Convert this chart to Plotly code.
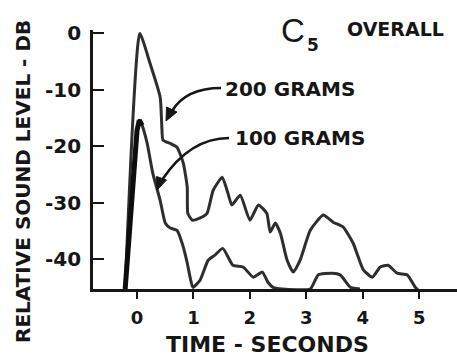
import plotly.graph_objects as go

# 200 grams curve
t200 = [-0.21, 0.05, 0.23, 0.41, 0.44, 0.46, 0.59, 0.71, 0.82, 0.89, 0.90, 0.98, 1.12, 1.24, 1.35, 1.51,
        1.61, 1.68, 1.83, 2.00, 2.15, 2.30, 2.36, 2.45, 2.54, 2.66, 2.77, 2.89, 3.07, 3.30, 3.48, 3.65,
        3.83, 4.01, 4.17, 4.31, 4.45, 4.61, 4.79, 4.93, 4.98]
db200 = [-45.3, 0.0, -5.3, -11.3, -16.6, -18.9, -19.5, -20.2, -23.0, -27.3, -31.9, -33.1, -32.7, -31.9, -27.8, -25.5,
         -28.3, -30.4, -28.7, -33.1, -30.4, -31.9, -35.2, -33.6, -35.4, -40.2, -42.3, -40.2, -34.9, -32.2, -33.5, -34.3,
         -37.2, -41.9, -43.2, -41.4, -41.1, -42.5, -42.8, -45.0, -45.5]

# 100 grams curve
t100 = [-0.21, 0.0, 0.04, 0.09, 0.18, 0.28, 0.41, 0.50, 0.59, 0.71, 0.80, 0.89, 0.94, 0.99, 1.12, 1.26, 1.38,
        1.52, 1.70, 1.88, 2.06, 2.22, 2.32, 2.41, 2.57, 3.07, 3.21, 3.46, 3.60, 3.78, 3.95]
db100 = [-45.3, -17.2, -15.4, -16.3, -19.5, -24.8, -29.6, -33.6, -34.5, -34.9, -37.2, -40.7, -43.2, -45.0, -43.7, -40.2, -39.3,
         -38.1, -41.1, -41.4, -43.2, -42.3, -44.1, -45.0, -45.3, -45.3, -42.8, -42.5, -42.8, -45.0, -45.3]

x_ticks = [0, 1, 2, 3, 4, 5]
x_ticklabels = ["0", "1", "2", "3", "4", "5"]
y_ticks = [0, -10, -20, -30, -40]
y_ticklabels = ["0", "-10", "-20", "-30", "-40"]

INK = "#161616"
LINE = "#2e2e2e"
FONT = "DejaVu Sans"

W, H = 457, 359
ML, MR, MT, MB = 93, 0, 30, 70
XR = [-0.78, 5.67]
YR = [-45.3, 0.6]
PW, PH = W - ML - MR, H - MT - MB


def px2x(px):
    return XR[0] + (px - ML) / PW * (XR[1] - XR[0])


def px2y(py):
    return YR[1] - (py - MT) / PH * (YR[1] - YR[0])


def paper(px, py):
    return dict(xref="paper", yref="paper", x=(px - ML) / PW, y=1 - (py - MT) / PH)


fig = go.Figure()
fig.add_trace(go.Scatter(x=t200, y=db200, mode="lines", line=dict(color=LINE, width=3, shape="spline", smoothing=0.5),
                         showlegend=False, hoverinfo="skip"))
fig.add_trace(go.Scatter(x=t100, y=db100, mode="lines", line=dict(color=LINE, width=3, shape="spline", smoothing=0.5),
                         showlegend=False, hoverinfo="skip"))
# thick dark rising segment of the 100 g curve
fig.add_trace(go.Scatter(x=t100[:4], y=db100[:4], mode="lines", line=dict(color="#0d0d0d", width=5),
                         showlegend=False, hoverinfo="skip"))

fig.update_layout(
    width=W, height=H,
    margin=dict(l=ML, r=MR, t=MT, b=MB),
    paper_bgcolor="white", plot_bgcolor="white",
    font=dict(family=FONT, color=INK, size=18, weight="bold"),
    xaxis=dict(range=XR, tickvals=x_ticks, ticktext=x_ticklabels, showgrid=False, zeroline=False,
               showline=True, linecolor=INK, linewidth=2.8, ticks="outside", ticklen=7, tickwidth=2.2, tickcolor=INK,
               tickfont=dict(size=18, family=FONT, weight="bold", color=INK), ticklabelstandoff=3),
    yaxis=dict(range=YR, tickvals=y_ticks, ticktext=y_ticklabels, showgrid=False, zeroline=False,
               showline=True, linecolor=INK, linewidth=2.8, ticks="inside", ticklen=11, tickwidth=2.2, tickcolor=INK,
               tickfont=dict(size=20, family=FONT, weight="bold", color=INK), ticklabelstandoff=5),
)

ann = []
ann.append(dict(text="RELATIVE SOUND LEVEL - DB", textangle=-90, showarrow=False,
                font=dict(size=20, family=FONT, weight="bold", color=INK),
                xanchor="center", yanchor="middle", **paper(23, 182)))
ann.append(dict(text="TIME - SECONDS", showarrow=False, font=dict(size=22, family=FONT, weight="bold", color=INK),
                xanchor="center", yanchor="middle", **paper(267, 344.5)))
ann.append(dict(text="C", showarrow=False, xanchor="center", yanchor="middle",
                font=dict(size=33, family="Liberation Sans", weight="normal", color=INK), **paper(293, 30)))
ann.append(dict(text="5", showarrow=False, xanchor="center", yanchor="middle",
                font=dict(size=17, family=FONT, weight="bold", color=INK), **paper(313, 45)))
ann.append(dict(text="OVERALL", showarrow=False, xanchor="center", yanchor="middle",
                font=dict(size=19, family=FONT, weight="bold", color=INK), **paper(395, 29)))
ann.append(dict(text="200 GRAMS", showarrow=False, xanchor="center", yanchor="middle",
                font=dict(size=20, family=FONT, weight="bold", color=INK), **paper(290, 89)))
ann.append(dict(text="100 GRAMS", showarrow=False, xanchor="center", yanchor="middle",
                font=dict(size=20, family=FONT, weight="bold", color=INK), **paper(300, 138)))
fig.update_layout(annotations=ann)


def pt(px, py):
    return f"{px2x(px):.4f},{px2y(py):.4f}"


# curved arrow shafts
fig.add_shape(type="path", xref="x", yref="y",
              path=f"M {pt(221, 88)} Q {pt(186, 88)} {pt(172, 111)}",
              line=dict(color=INK, width=2.6))
fig.add_shape(type="path", xref="x", yref="y",
              path=f"M {pt(229, 138)} Q {pt(190, 138)} {pt(162, 180)}",
              line=dict(color=INK, width=2.6))
# arrowheads
fig.add_shape(type="path", xref="x", yref="y",
              path=f"M {pt(166, 121)} L {pt(177, 112)} L {pt(166.5, 107)} Z",
              fillcolor=INK, line=dict(color=INK, width=1))
fig.add_shape(type="path", xref="x", yref="y",
              path=f"M {pt(157, 190)} L {pt(166.5, 180)} L {pt(156.5, 176.5)} Z",
              fillcolor=INK, line=dict(color=INK, width=1))

fig.write_html("out.html")
